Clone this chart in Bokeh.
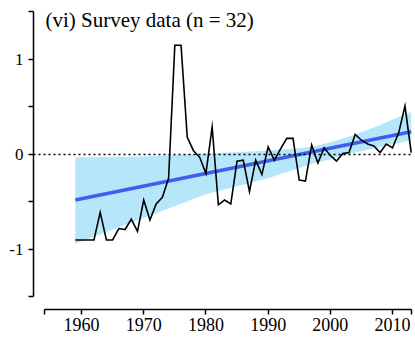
from bokeh.plotting import figure
from bokeh.models import Range1d, FixedTicker, Span, Label
from bokeh.embed import file_html
from bokeh.resources import INLINE

# ---- data ----
years = list(range(1959, 2014))
values = [-0.90, -0.90, -0.90, -0.90, -0.61, -0.90, -0.90, -0.78, -0.79, -0.68,
          -0.81, -0.48, -0.69, -0.52, -0.45, -0.25, 1.15, 1.15, 0.18, 0.04,
          -0.03, -0.20, 0.29, -0.53, -0.48, -0.52, -0.07, -0.06, -0.39, -0.06,
          -0.21, 0.08, -0.06, 0.06, 0.17, 0.17, -0.27, -0.28, 0.10, -0.09,
          0.07, -0.01, -0.07, 0.01, 0.02, 0.21, 0.15, 0.11, 0.09, 0.02,
          0.11, 0.07, 0.23, 0.51, 0.02]

fit_years = [1959, 2013]
fit_values = [-0.48, 0.24]

band_years = [1959, 1970, 1980, 1990, 1997, 2000, 2004, 2008, 2013]
band_upper = [-0.03, -0.02, 0.01, 0.04, 0.08, 0.13, 0.21, 0.31, 0.45]
band_lower = [-0.94, -0.67, -0.42, -0.25, -0.10, -0.05, 0.02, 0.08, 0.15]

x_ticks = [1954, 1960, 1970, 1980, 1990, 2000, 2010, 2013]
x_tick_labels = ["", "1960", "1970", "1980", "1990", "2000", "2010", ""]
y_ticks = [-1.5, -1.0, -0.5, 0.0, 0.5, 1.0, 1.5]
y_tick_labels = ["", "-1", "", "0", "", "1", ""]

title_text = "(vi) Survey data (n = 32)"

FONT = "Liberation Serif"

p = figure(width=415, height=337, output_backend="svg", toolbar_location=None,
           x_range=Range1d(1952.28, 2013.37), y_range=Range1d(-1.632, 1.621),
           min_border_left=33, min_border_right=2, min_border_top=0,
           min_border_bottom=28)
p.outline_line_color = None
p.xgrid.visible = False
p.ygrid.visible = False
p.background_fill_color = "white"
p.border_fill_color = "white"

# confidence band
p.varea(x=band_years, y1=band_lower, y2=band_upper, fill_color="#b5e6fa", fill_alpha=1.0)

# zero reference line
p.add_layout(Span(location=0, dimension="width", line_color="black",
                  line_width=1.5, line_dash="2 3"))

# regression line
p.line(fit_years, fit_values, line_color="#3d5ef0", line_width=3.5)

# observed series
p.line(years, values, line_color="black", line_width=1.6, line_join="miter")

# axes styling
for ax in (p.xaxis[0], p.yaxis[0]):
    ax.axis_line_color = "black"
    ax.axis_line_width = 1.5
    ax.major_tick_line_color = "black"
    ax.major_tick_line_width = 1.5
    ax.major_tick_in = 0
    ax.minor_tick_line_color = None
    ax.major_label_text_font = FONT
    ax.major_label_text_color = "black"

p.xaxis.bounds = (x_ticks[0], x_ticks[-1])
p.xaxis.ticker = FixedTicker(ticks=x_ticks)
p.xaxis.major_label_overrides = {t: l for t, l in zip(x_ticks, x_tick_labels)}
p.xaxis.major_tick_out = 5
p.xaxis.major_label_standoff = 3
p.xaxis.major_label_text_font_size = "18px"

p.yaxis.bounds = (y_ticks[0], y_ticks[-1])
p.yaxis.ticker = FixedTicker(ticks=y_ticks)
p.yaxis.major_label_overrides = {t: l for t, l in zip(y_ticks, y_tick_labels)}
p.yaxis.major_tick_out = 5
p.yaxis.major_label_standoff = 5
p.yaxis.major_label_text_font_size = "17px"

p.add_layout(Label(x=1954.2, y=1.42, text=title_text, text_font=FONT,
                   text_font_size="21px", text_baseline="middle",
                   text_align="left", text_color="black"))

open("out.html", "w").write(file_html(p, INLINE))
